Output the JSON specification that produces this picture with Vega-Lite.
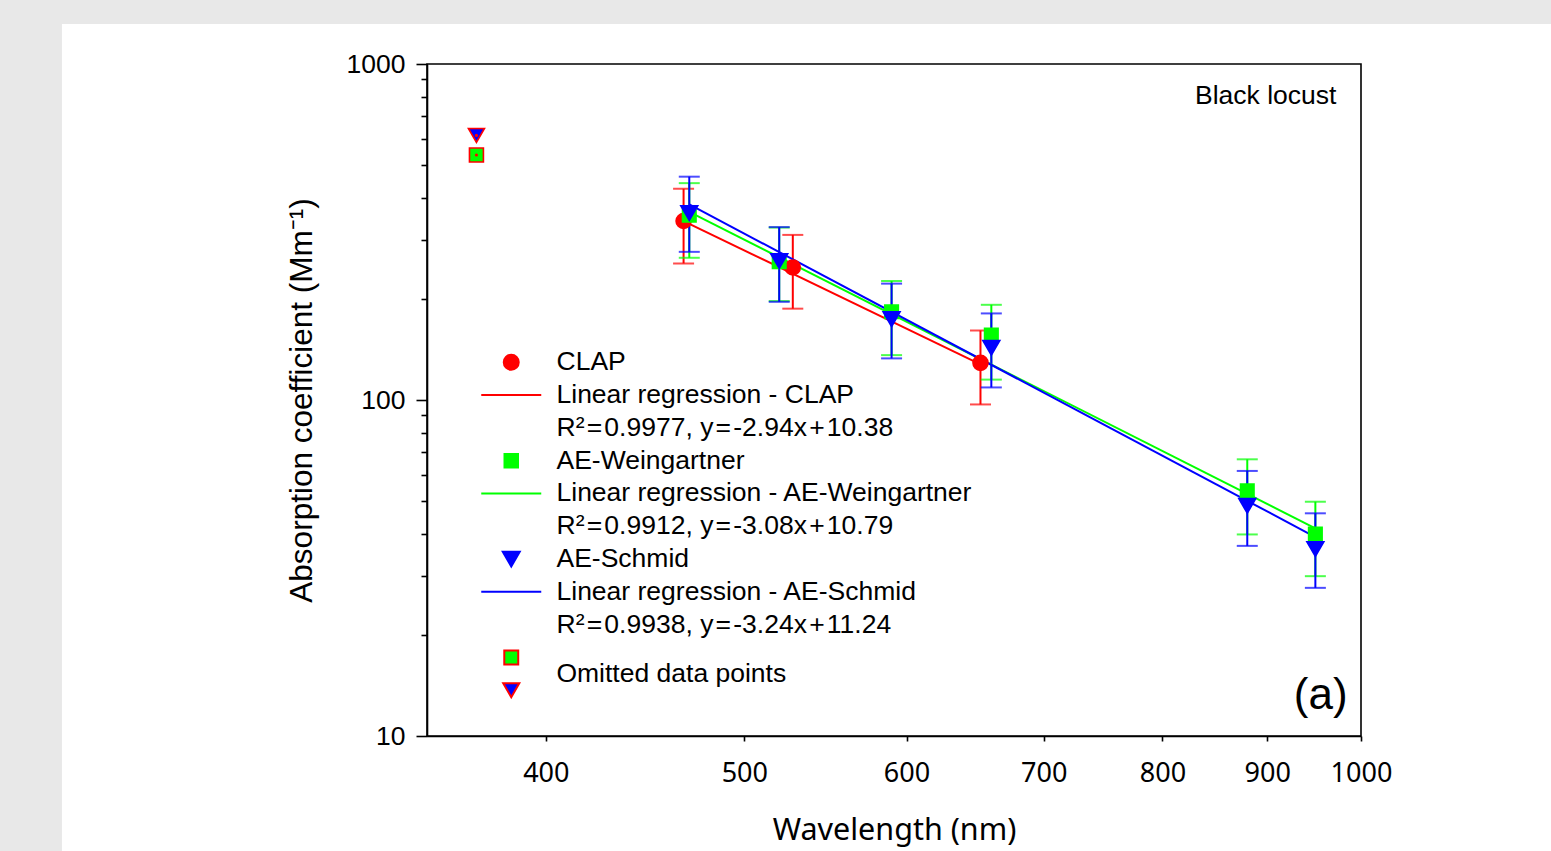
{
  "$schema": "https://vega.github.io/schema/vega-lite/v6.json",
  "width": 934,
  "height": 672,
  "autosize": {"type": "none"},
  "padding": {"left": 427, "top": 64, "right": 190, "bottom": 115},
  "background": "#e8e8e8",
  "config": {
    "font": "Liberation Sans",
    "view": {"stroke": null},
    "axis": {"domainColor": "black", "domainWidth": 1.6, "tickColor": "black", "tickWidth": 1.6, "labelColor": "black", "titleColor": "black", "grid": false, "titleFontWeight": "normal"},
    "legend": {"labelFont": "Liberation Sans", "labelFontSize": 26.5, "labelColor": "black", "labelLimit": 800, "symbolSize": 225, "symbolStrokeWidth": 2, "symbolOpacity": 1, "rowPadding": 5.8, "labelOffset": 32, "padding": 0, "symbolOffset": 0}
  },
  "datasets": {
    "points": [
      {"series": "CLAP", "wavelength": 467, "value": 341, "lo": 255, "hi": 425},
      {"series": "CLAP", "wavelength": 528, "value": 248, "lo": 187, "hi": 310},
      {"series": "CLAP", "wavelength": 652, "value": 129, "lo": 97, "hi": 161},
      {"series": "AE-Weingartner", "wavelength": 470, "value": 355, "lo": 265, "hi": 442},
      {"series": "AE-Weingartner", "wavelength": 520, "value": 258, "lo": 197, "hi": 326},
      {"series": "AE-Weingartner", "wavelength": 590, "value": 183, "lo": 136, "hi": 226},
      {"series": "AE-Weingartner", "wavelength": 660, "value": 156, "lo": 115, "hi": 192},
      {"series": "AE-Weingartner", "wavelength": 880, "value": 53.7, "lo": 39.8, "hi": 66.6},
      {"series": "AE-Weingartner", "wavelength": 950, "value": 39.9, "lo": 29.9, "hi": 49.8},
      {"series": "AE-Schmid", "wavelength": 470, "value": 360, "lo": 276, "hi": 462},
      {"series": "AE-Schmid", "wavelength": 520, "value": 259, "lo": 196, "hi": 327},
      {"series": "AE-Schmid", "wavelength": 590, "value": 174, "lo": 133, "hi": 222},
      {"series": "AE-Schmid", "wavelength": 660, "value": 143, "lo": 109, "hi": 181},
      {"series": "AE-Schmid", "wavelength": 880, "value": 48.4, "lo": 36.8, "hi": 61.5},
      {"series": "AE-Schmid", "wavelength": 950, "value": 36.0, "lo": 27.6, "hi": 46.0},
      {"series": "Omitted AE-Weingartner", "wavelength": 370, "value": 536},
      {"series": "Omitted AE-Schmid", "wavelength": 370, "value": 613}
    ],
    "fits": [
      {"series": "Linear regression - CLAP", "wavelength": 467, "value": 340.6},
      {"series": "Linear regression - CLAP", "wavelength": 652, "value": 127.7},
      {"series": "Linear regression - AE-Weingartner", "wavelength": 470, "value": 363.1},
      {"series": "Linear regression - AE-Weingartner", "wavelength": 950, "value": 41.5},
      {"series": "Linear regression - AE-Schmid", "wavelength": 470, "value": 382.3},
      {"series": "Linear regression - AE-Schmid", "wavelength": 950, "value": 39.1}
    ]
  },
  "layer": [
    {
      "data": {"values": [{}]},
      "mark": {"type": "rect", "color": "white"},
      "encoding": {
        "x": {"datum": 232.2, "type": "quantitative", "scale": {"type": "log", "domain": [350, 1000], "nice": false}},
        "x2": {"datum": 2000},
        "y": {"datum": 1315, "type": "quantitative", "scale": {"type": "log", "domain": [10, 1000], "nice": false}},
        "y2": {"datum": 1}
      }
    },
    {
      "data": {"values": [{}]},
      "mark": {"type": "rect", "filled": false, "stroke": "black", "strokeWidth": 1.6},
      "encoding": {
        "x": {"datum": 350, "type": "quantitative", "scale": {"type": "log", "domain": [350, 1000], "nice": false}},
        "x2": {"datum": 1000},
        "y": {"datum": 10, "type": "quantitative", "scale": {"type": "log", "domain": [10, 1000], "nice": false}},
        "y2": {"datum": 1000}
      }
    },
    {
      "data": {"name": "points"},
      "transform": [{"filter": "datum.series == 'CLAP'"}],
      "mark": {"type": "errorbar", "thickness": 2, "rule": {"color": "#ff0000"}, "ticks": {"size": 21, "color": "#ff0000"}},
      "encoding": {
        "x": {"field": "wavelength", "type": "quantitative", "scale": {"type": "log", "domain": [350, 1000], "nice": false}},
        "y": {"field": "lo", "type": "quantitative", "scale": {"type": "log", "domain": [10, 1000], "nice": false}, "title": "Absorption coefficient (Mm⁻¹)"},
        "y2": {"field": "hi"}
      }
    },
    {
      "data": {"name": "points"},
      "transform": [{"filter": "datum.series == 'AE-Weingartner'"}],
      "mark": {"type": "errorbar", "thickness": 2, "rule": {"color": "#00ff00"}, "ticks": {"size": 21, "color": "#00ff00"}},
      "encoding": {
        "x": {"field": "wavelength", "type": "quantitative", "scale": {"type": "log", "domain": [350, 1000], "nice": false}},
        "y": {"field": "lo", "type": "quantitative", "scale": {"type": "log", "domain": [10, 1000], "nice": false}, "title": "Absorption coefficient (Mm⁻¹)"},
        "y2": {"field": "hi"}
      }
    },
    {
      "data": {"name": "points"},
      "transform": [{"filter": "datum.series == 'AE-Schmid'"}],
      "mark": {"type": "errorbar", "thickness": 2, "rule": {"color": "#0000ff"}, "ticks": {"size": 21, "color": "#0000ff"}},
      "encoding": {
        "x": {"field": "wavelength", "type": "quantitative", "scale": {"type": "log", "domain": [350, 1000], "nice": false}},
        "y": {"field": "lo", "type": "quantitative", "scale": {"type": "log", "domain": [10, 1000], "nice": false}, "title": "Absorption coefficient (Mm⁻¹)"},
        "y2": {"field": "hi"}
      }
    },
    {
      "data": {"name": "fits"},
      "transform": [{"filter": "datum.series == 'Linear regression - CLAP'"}],
      "mark": {"type": "line", "strokeWidth": 2, "color": "#ff0000"},
      "encoding": {
        "x": {"field": "wavelength", "type": "quantitative", "scale": {"type": "log", "domain": [350, 1000], "nice": false}},
        "y": {"field": "value", "type": "quantitative", "scale": {"type": "log", "domain": [10, 1000], "nice": false}}
      }
    },
    {
      "data": {"name": "fits"},
      "transform": [{"filter": "datum.series == 'Linear regression - AE-Weingartner'"}],
      "mark": {"type": "line", "strokeWidth": 2, "color": "#00ff00"},
      "encoding": {
        "x": {"field": "wavelength", "type": "quantitative", "scale": {"type": "log", "domain": [350, 1000], "nice": false}},
        "y": {"field": "value", "type": "quantitative", "scale": {"type": "log", "domain": [10, 1000], "nice": false}}
      }
    },
    {
      "data": {"name": "fits"},
      "transform": [{"filter": "datum.series == 'Linear regression - AE-Schmid'"}],
      "mark": {"type": "line", "strokeWidth": 2, "color": "#0000ff"},
      "encoding": {
        "x": {"field": "wavelength", "type": "quantitative", "scale": {"type": "log", "domain": [350, 1000], "nice": false}},
        "y": {"field": "value", "type": "quantitative", "scale": {"type": "log", "domain": [10, 1000], "nice": false}}
      }
    },
    {
      "data": {"name": "points"},
      "mark": {"type": "point", "filled": true, "size": 225, "strokeWidth": 1.6, "opacity": 1},
      "encoding": {
        "x": {"field": "wavelength", "type": "quantitative", "scale": {"type": "log", "domain": [350, 1000], "nice": false},
          "axis": {"zindex": 2, "values": [400, 500, 600, 700, 800, 900, 1000], "format": "d", "title": "Wavelength (nm)", "titleFont": "Noto Sans", "titleFontSize": 30.5, "titlePadding": 29, "labelFont": "Noto Sans", "labelFontSize": 27, "tickSize": 5, "labelPadding": 19, "labelFlush": false, "labelOverlap": false}},
        "y": {"field": "value", "type": "quantitative", "scale": {"type": "log", "domain": [10, 1000], "nice": false},
          "axis": {"zindex": 2, "values": [10, 20, 30, 40, 50, 60, 70, 80, 90, 100, 200, 300, 400, 500, 600, 700, 800, 900, 1000],
            "labelExpr": "(datum.value == 10 || datum.value == 100 || datum.value == 1000) ? ('' + datum.value) : ''",
            "tickSize": {"condition": {"test": "datum.value == 10 || datum.value == 100 || datum.value == 1000", "value": 11}, "value": 6},
            "title": "Absorption coefficient (Mm⁻¹)", "titleFont": "Liberation Sans", "titleFontSize": 31.5, "titlePadding": 28,
            "labelFont": "Liberation Sans", "labelFontSize": 26.5, "labelPadding": 11, "labelOverlap": false, "labelFlush": false}},
        "color": {"field": "series", "type": "nominal",
          "scale": {"domain": ["CLAP", "Linear regression - CLAP", "R²\u200a=\u200a0.9977, y\u200a=\u200a-2.94x\u200a+\u200a10.38", "AE-Weingartner", "Linear regression - AE-Weingartner", "R²\u200a=\u200a0.9912, y\u200a=\u200a-3.08x\u200a+\u200a10.79", "AE-Schmid", "Linear regression - AE-Schmid", "R²\u200a=\u200a0.9938, y\u200a=\u200a-3.24x\u200a+\u200a11.24", "Omitted AE-Weingartner", "Omitted AE-Schmid"],
            "range": ["#ff0000", "#ff0000", "transparent", "#00ff00", "#00ff00", "transparent", "#0000ff", "#0000ff", "transparent", "#00ff00", "#0000ff"]},
          "legend": {"zindex": 2, "title": null, "orient": "none", "legendX": 71, "legendY": 285,
            "labelExpr": "indexof(datum.value, 'Omitted') == 0 ? ' ' : datum.value",
            "encode": {"symbols": {"update": {"fill": {"scale": "color", "field": "value"}, "stroke": {"scale": "stroke", "field": "value"}, "strokeWidth": {"value": 2}, "opacity": {"value": 1}}}}}},
        "shape": {"field": "series", "type": "nominal",
          "scale": {"domain": ["CLAP", "Linear regression - CLAP", "R²\u200a=\u200a0.9977, y\u200a=\u200a-2.94x\u200a+\u200a10.38", "AE-Weingartner", "Linear regression - AE-Weingartner", "R²\u200a=\u200a0.9912, y\u200a=\u200a-3.08x\u200a+\u200a10.79", "AE-Schmid", "Linear regression - AE-Schmid", "R²\u200a=\u200a0.9938, y\u200a=\u200a-3.24x\u200a+\u200a11.24", "Omitted AE-Weingartner", "Omitted AE-Schmid"],
            "range": ["circle", "M-4,0H4", "circle", "M-0.9,-0.9H0.9V0.9H-0.9Z", "M-4,0H4", "circle", "M-1.13,-0.98L1.13,-0.98L0,0.98Z", "M-4,0H4", "circle", "M-0.93,-0.93H0.93V0.93H-0.93Z", "M-1.07,-0.92L1.07,-0.92L0,0.92Z"]},
          "legend": {"zindex": 2, "title": null, "orient": "none", "legendX": 71, "legendY": 285,
            "labelExpr": "indexof(datum.value, 'Omitted') == 0 ? ' ' : datum.value",
            "encode": {"symbols": {"update": {"fill": {"scale": "color", "field": "value"}, "stroke": {"scale": "stroke", "field": "value"}, "strokeWidth": {"value": 2}, "opacity": {"value": 1}}}}}},
        "stroke": {"field": "series", "type": "nominal",
          "scale": {"domain": ["CLAP", "Linear regression - CLAP", "R²\u200a=\u200a0.9977, y\u200a=\u200a-2.94x\u200a+\u200a10.38", "AE-Weingartner", "Linear regression - AE-Weingartner", "R²\u200a=\u200a0.9912, y\u200a=\u200a-3.08x\u200a+\u200a10.79", "AE-Schmid", "Linear regression - AE-Schmid", "R²\u200a=\u200a0.9938, y\u200a=\u200a-3.24x\u200a+\u200a11.24", "Omitted AE-Weingartner", "Omitted AE-Schmid"],
            "range": ["#ff0000", "#ff0000", "transparent", "#00ff00", "#00ff00", "transparent", "#0000ff", "#0000ff", "transparent", "#ff0000", "#ff0000"]},
          "legend": {"zindex": 2, "title": null, "orient": "none", "legendX": 71, "legendY": 285,
            "labelExpr": "indexof(datum.value, 'Omitted') == 0 ? ' ' : datum.value",
            "encode": {"symbols": {"update": {"fill": {"scale": "color", "field": "value"}, "stroke": {"scale": "stroke", "field": "value"}, "strokeWidth": {"value": 2}, "opacity": {"value": 1}}}}}}
      }
    },
    {
      "data": {"name": "points"},
      "transform": [{"filter": "indexof(datum.series, 'Omitted') == 0"}],
      "mark": {"type": "point", "filled": true, "size": 10, "color": "#ff0000", "opacity": 1},
      "encoding": {
        "x": {"field": "wavelength", "type": "quantitative", "scale": {"type": "log", "domain": [350, 1000], "nice": false}},
        "y": {"field": "value", "type": "quantitative", "scale": {"type": "log", "domain": [10, 1000], "nice": false}}
      }
    },
    {
      "data": {"values": [{}]},
      "mark": {"type": "text", "text": "Omitted data points", "align": "left", "baseline": "middle", "font": "Liberation Sans", "fontSize": 26.5, "color": "black"},
      "encoding": {
        "x": {"datum": 404.8, "type": "quantitative", "scale": {"type": "log", "domain": [350, 1000], "nice": false}},
        "y": {"datum": 15.29, "type": "quantitative", "scale": {"type": "log", "domain": [10, 1000], "nice": false}}
      }
    },
    {
      "data": {"values": [{}]},
      "mark": {"type": "text", "text": "Black locust", "align": "right", "baseline": "middle", "font": "Liberation Sans", "fontSize": 26.5, "color": "black"},
      "encoding": {
        "x": {"datum": 972.7, "type": "quantitative", "scale": {"type": "log", "domain": [350, 1000], "nice": false}},
        "y": {"datum": 803, "type": "quantitative", "scale": {"type": "log", "domain": [10, 1000], "nice": false}}
      }
    },
    {
      "data": {"values": [{}]},
      "mark": {"type": "text", "text": "(a)", "align": "right", "baseline": "middle", "font": "Liberation Sans", "fontSize": 44, "color": "black"},
      "encoding": {
        "x": {"datum": 985, "type": "quantitative", "scale": {"type": "log", "domain": [350, 1000], "nice": false}},
        "y": {"datum": 13.15, "type": "quantitative", "scale": {"type": "log", "domain": [10, 1000], "nice": false}}
      }
    }
  ]
}
